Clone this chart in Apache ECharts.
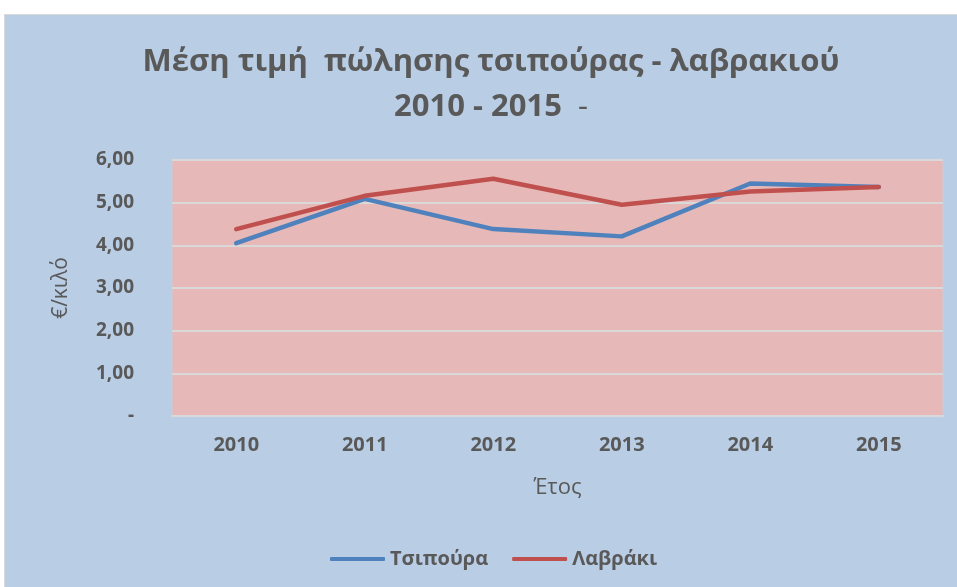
<!DOCTYPE html>
<html>
<head>
<meta charset="utf-8">
<script src="https://cdn.jsdelivr.net/npm/echarts@6/dist/echarts.min.js"></script>
<style>
  html, body { margin: 0; padding: 0; background: #ffffff; }
  #chart {
    position: absolute; left: 4px; top: 14px;
    width: 953px; height: 573px;
    border-left: 1px solid #d9d9d9; border-top: 1px solid #d9d9d9;
    box-sizing: border-box;
  }
</style>
</head>
<body>
<div id="chart"></div>
<script>
/* δεδομένα */
const years = ["2010", "2011", "2012", "2013", "2014", "2015"];
const tsipoura = [4.05, 5.09, 4.38, 4.21, 5.45, 5.37];
const lavraki = [4.38, 5.16, 5.56, 4.95, 5.26, 5.37];
const yTicks = [0, 1, 2, 3, 4, 5, 6];

const FONT = "'Open Sans', sans-serif";
const TEXT = "#595959";

let chartDom = document.getElementById("chart");
let myChart = echarts.init(chartDom);
let option = {
  backgroundColor: "#b9cde5",
  title: {
    text: "{b|Μέση τιμή  πώλησης τσιπούρας - λαβρακιού}\n{b|2010 - 2015}  {n|-}",
    left: 481,
    textAlign: "center",
    top: 20,
    textStyle: {
      color: TEXT,
      fontFamily: FONT,
      fontWeight: "bold",
      fontSize: 31,
      lineHeight: 45,
      rich: {
        b: { color: TEXT, fontFamily: FONT, fontWeight: "bold", fontSize: 31, lineHeight: 45 },
        n: { color: TEXT, fontFamily: FONT, fontWeight: "normal", fontSize: 31, lineHeight: 45 },
      },
    },
  },
  legend: {
    bottom: 13,
    left: 320,
    itemWidth: 55,
    itemHeight: 4,
    itemGap: 24,
    icon: "roundRect",
    textStyle: { color: TEXT, fontFamily: FONT, fontWeight: "bold", fontSize: 20 },
    data: ["Τσιπούρα", "Λαβράκι"],
  },
  grid: {
    left: 167,
    right: 14,
    top: 145,
    bottom: 171,
    show: true,
    backgroundColor: "#e6b9b8",
    borderColor: "#c4cde0",
    borderWidth: 1,
  },
  xAxis: {
    type: "category",
    data: years,
    boundaryGap: true,
    name: "Έτος",
    nameLocation: "middle",
    nameGap: 61,
    nameTextStyle: { color: TEXT, fontFamily: FONT, fontSize: 22 },
    axisLine: { show: true, lineStyle: { color: "#d9d9d9", width: 2 } },
    axisTick: { show: false },
    axisLabel: { color: TEXT, fontFamily: FONT, fontWeight: "bold", fontSize: 20, margin: 19 },
  },
  yAxis: {
    type: "value",
    min: yTicks[0],
    max: yTicks[yTicks.length - 1],
    interval: 1,
    name: "€/κιλό",
    nameLocation: "middle",
    nameGap: 100,
    nameTextStyle: { color: TEXT, fontFamily: FONT, fontSize: 21 },
    axisLine: { show: false },
    axisTick: { show: false },
    splitLine: { lineStyle: { color: "#d9d9d9", width: 2 } },
    axisLabel: {
      color: TEXT,
      fontFamily: FONT,
      fontWeight: "bold",
      fontSize: 19,
      margin: 38,
      formatter: (v) => (v === 0 ? "-" : v.toFixed(2).replace(".", ",")),
    },
  },
  series: [
    {
      name: "Τσιπούρα",
      type: "line",
      data: tsipoura,
      symbol: "none",
      color: "#4f81bd",
      lineStyle: { width: 4.5, cap: "round", join: "round" },
    },
    {
      name: "Λαβράκι",
      type: "line",
      data: lavraki,
      symbol: "none",
      color: "#c0504d",
      lineStyle: { width: 4.5, cap: "round", join: "round" },
    },
  ],
};

option && myChart.setOption(option);
</script>
</body>
</html>
